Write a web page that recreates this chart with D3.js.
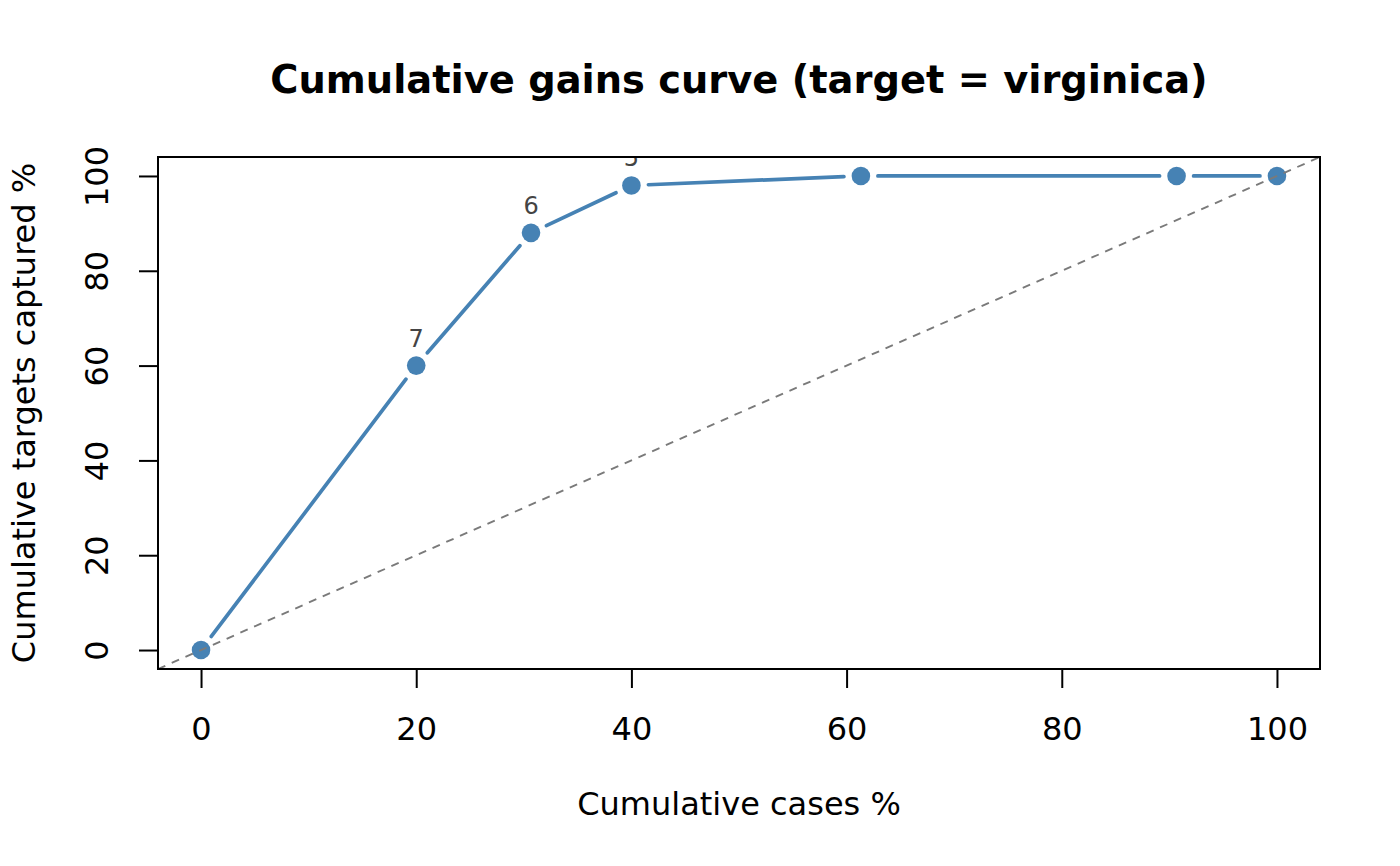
<!DOCTYPE html>
<html>
<head>
<meta charset="utf-8">
<script src="https://cdn.jsdelivr.net/npm/d3@7"></script>
<style>
  body { margin: 0; background: #fff; }
  svg text { font-family: "DejaVu Sans", sans-serif; }
</style>
</head>
<body>
<div id="chart"></div>
<script>
// cumulative gains data
var casesPct = [0, 20, 30.67, 40, 61.33, 90.67, 100];
var capturedPct = [0, 60, 88, 98, 100, 100, 100];
var pointLabels = ["", "7", "6", "5", "", "", ""];
var xTicks = [0, 20, 40, 60, 80, 100];
var yTicks = [0, 20, 40, 60, 80, 100];

function draw() {
    var W = 1400, H = 866;
    var pLeft = 158, pRight = 1320, pTop = 157, pBottom = 669;

    var svg = d3.select("#chart").append("svg")
        .attr("width", W)
        .attr("height", H);

    // R style axes: range extended by 4% on each side
    var x = d3.scaleLinear().domain([-4, 104]).range([pLeft, pRight]);
    var y = d3.scaleLinear().domain([-4, 104]).range([pBottom, pTop]);

    svg.append("clipPath").attr("id", "plotclip")
        .append("rect")
        .attr("x", pLeft).attr("y", pTop)
        .attr("width", pRight - pLeft).attr("height", pBottom - pTop);

    var data = casesPct.map(function(d, i) {
        return { x: d, y: capturedPct[i], label: pointLabels[i] };
    });

    // line segments with gaps around the points (type = "b")
    var gap = 17;
    var segs = [];
    for (var i = 0; i < data.length - 1; i++) {
        var x0 = x(data[i].x), y0 = y(data[i].y);
        var x1 = x(data[i + 1].x), y1 = y(data[i + 1].y);
        var len = Math.sqrt((x1 - x0) * (x1 - x0) + (y1 - y0) * (y1 - y0));
        if (len <= 2 * gap) continue;
        var ux = (x1 - x0) / len, uy = (y1 - y0) / len;
        segs.push([x0 + ux * gap, y0 + uy * gap, x1 - ux * gap, y1 - uy * gap]);
    }

    var plot = svg.append("g").attr("clip-path", "url(#plotclip)");

    plot.selectAll("line.seg")
        .data(segs)
        .enter()
        .append("line")
        .attr("class", "seg")
        .attr("x1", function(d) { return d[0]; })
        .attr("y1", function(d) { return d[1]; })
        .attr("x2", function(d) { return d[2]; })
        .attr("y2", function(d) { return d[3]; })
        .attr("stroke", "steelblue")
        .attr("stroke-width", 3.7)
        .attr("stroke-linecap", "round");

    plot.selectAll("circle")
        .data(data)
        .enter()
        .append("circle")
        .attr("cx", function(d) { return x(d.x); })
        .attr("cy", function(d) { return y(d.y); })
        .attr("r", 9.3)
        .attr("fill", "steelblue");

    plot.selectAll("text.lab")
        .data(data.filter(function(d) { return d.label !== ""; }))
        .enter()
        .append("text")
        .attr("class", "lab")
        .attr("x", function(d) { return x(d.x); })
        .attr("y", function(d) { return y(d.y) - 19; })
        .attr("text-anchor", "middle")
        .attr("font-size", 24)
        .attr("fill", "#444")
        .text(function(d) { return d.label; });

    // reference diagonal
    plot.append("line")
        .attr("x1", x(-4)).attr("y1", y(-4))
        .attr("x2", x(104)).attr("y2", y(104))
        .attr("stroke", "#7a7a7a")
        .attr("stroke-width", 1.9)
        .attr("stroke-dasharray", "8,7");

    // box
    svg.append("rect")
        .attr("x", pLeft).attr("y", pTop)
        .attr("width", pRight - pLeft).attr("height", pBottom - pTop)
        .attr("fill", "none")
        .attr("stroke", "#000")
        .attr("stroke-width", 2);

    // x axis
    var gx = svg.append("g")
        .attr("transform", "translate(0," + pBottom + ")")
        .call(d3.axisBottom(x).tickValues(xTicks).tickSize(19).tickFormat(d3.format("d")));
    gx.select(".domain").remove();
    gx.selectAll("line").attr("stroke", "#000").attr("stroke-width", 2);
    gx.selectAll("text")
        .attr("y", 71).attr("dy", null)
        .attr("font-size", 32)
        .attr("font-family", "DejaVu Sans")
        .attr("fill", "#000");

    // y axis
    var gy = svg.append("g")
        .attr("transform", "translate(" + pLeft + ",0)")
        .call(d3.axisLeft(y).tickValues(yTicks).tickSize(19).tickFormat(d3.format("d")));
    gy.select(".domain").remove();
    gy.selectAll("line").attr("stroke", "#000").attr("stroke-width", 2);
    gy.selectAll("text")
        .attr("x", null).attr("dy", null)
        .attr("transform", "translate(-50,0) rotate(-90)")
        .attr("text-anchor", "middle")
        .attr("font-size", 32)
        .attr("font-family", "DejaVu Sans")
        .attr("fill", "#000");

    // titles
    svg.append("text")
        .attr("x", (pLeft + pRight) / 2)
        .attr("y", 93)
        .attr("text-anchor", "middle")
        .attr("font-size", 38.4)
        .attr("font-weight", "bold")
        .text("Cumulative gains curve (target = virginica)");

    svg.append("text")
        .attr("x", (pLeft + pRight) / 2)
        .attr("y", 815)
        .attr("text-anchor", "middle")
        .attr("font-size", 32)
        .text("Cumulative cases %");

    svg.append("text")
        .attr("transform", "translate(35," + (pTop + pBottom) / 2 + ") rotate(-90)")
        .attr("text-anchor", "middle")
        .attr("font-size", 32)
        .text("Cumulative targets captured %");
}

draw();
</script>
</body>
</html>
